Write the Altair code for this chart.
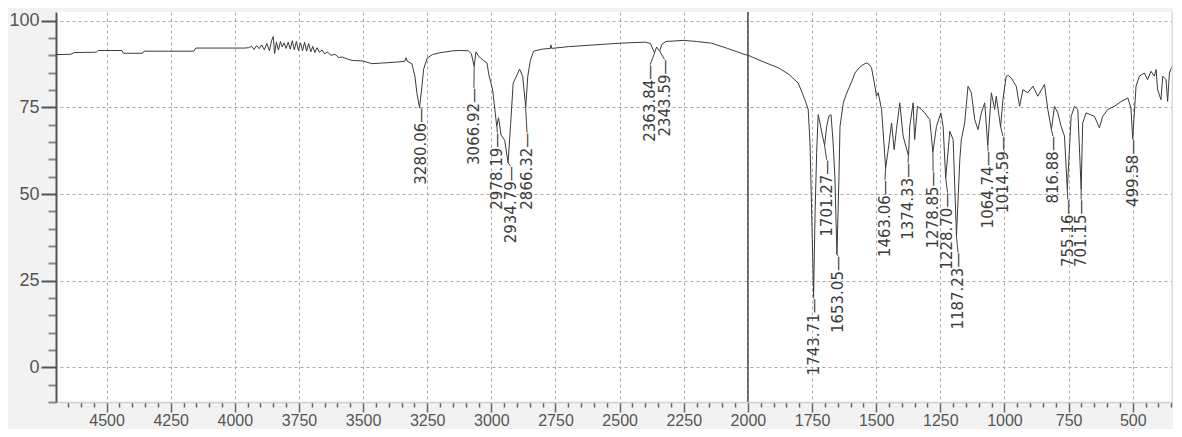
import altair as alt
import pandas as pd

# ---------------- spectrum (wavenumber cm-1, %T) ----------------
WN = [
    4698, 4640, 4625, 4540, 4532, 4440, 4434, 4360, 4354, 4160, 4152, 3960,
    3947, 3935, 3925, 3915, 3905, 3895, 3885, 3875, 3865, 3857, 3850, 3845,
    3838, 3830, 3822, 3815, 3808, 3800, 3792, 3784, 3776, 3768, 3760, 3752,
    3744, 3736, 3728, 3720, 3712, 3704, 3696, 3688, 3680, 3670, 3660, 3650,
    3640, 3625, 3610, 3595, 3580, 3560, 3540, 3503, 3466, 3420, 3360, 3337,
    3332, 3328, 3310, 3298, 3290, 3280, 3272, 3264, 3250, 3230, 3204, 3150,
    3126, 3090, 3078, 3067, 3060, 3050, 3042, 3030, 3017, 3010, 2995, 2979,
    2972, 2962, 2948, 2935, 2925, 2915, 2902, 2890, 2878, 2866, 2858, 2848,
    2835, 2800, 2770, 2768, 2765, 2700, 2600, 2500, 2400, 2380, 2364, 2356,
    2344, 2335, 2320, 2251, 2200, 2142, 2080, 2011, 1998, 1946, 1881, 1840,
    1804, 1790, 1778, 1765, 1758, 1750, 1744, 1738, 1732, 1726, 1719, 1710,
    1701, 1693, 1684, 1676, 1668, 1661, 1653, 1645, 1641, 1628, 1618, 1609,
    1595, 1583, 1565, 1551, 1538, 1528, 1518, 1505, 1499, 1492, 1479, 1463,
    1453, 1440, 1430, 1421, 1408, 1395, 1374, 1369, 1356, 1350, 1339, 1324,
    1311, 1291, 1279, 1265, 1248, 1239, 1229, 1213, 1200, 1187, 1174, 1168,
    1155, 1142, 1129, 1116, 1103, 1090, 1077, 1065, 1051, 1038, 1032, 1015,
    1006, 993, 985, 974, 954, 941, 928, 909, 889, 870, 844, 831,
    817, 805, 792, 779, 766, 755, 740, 727, 714, 701, 695, 682,
    649, 630, 617, 597, 571, 545, 519, 507, 500, 487, 474, 455,
    442, 429, 416, 409, 403, 390, 383, 370, 364, 357, 344,
]
T = [
    90.2, 90.3, 90.8, 90.9, 91.4, 91.4, 90.6, 90.6, 91.2, 91.2, 92.1, 92.1,
    92.2, 92.6, 91.7, 92.8, 91.9, 93.0, 91.6, 93.4, 91.3, 94.2, 95.4, 90.5,
    93.8, 91.5, 94.0, 92.4, 93.6, 92.0, 93.8, 91.8, 94.2, 91.6, 94.0, 91.4,
    93.6, 91.3, 93.8, 91.2, 93.4, 91.0, 92.6, 90.8, 92.2, 90.9, 91.6, 90.4,
    91.0, 90.0, 90.3, 89.4, 89.5, 88.9, 88.5, 88.4, 87.6, 87.8, 88.1, 88.3,
    89.3, 88.3, 87.6, 84.0, 79.0, 74.9, 80.0, 86.0, 89.2, 90.2, 90.7, 91.3,
    91.4, 91.3, 90.5, 86.8, 91.0, 89.8, 89.2, 88.5, 87.8, 84.5, 80.0, 69.5,
    72.0, 67.0, 65.5, 59.0, 70.0, 82.0, 84.0, 86.0, 84.0, 75.0, 84.0, 88.5,
    91.2, 91.8, 92.0, 93.0, 92.0, 92.5, 93.0, 93.5, 93.8, 93.4, 90.7, 92.4,
    91.2, 93.2, 94.0, 94.3, 94.0, 93.5, 92.0, 90.2, 90.0, 88.3, 86.4, 84.5,
    82.0, 79.5, 77.2, 74.4, 64.8, 40.0, 20.5, 45.0, 62.0, 72.9, 70.5, 67.0,
    64.0, 69.5, 72.5, 72.9, 65.0, 55.0, 32.5, 55.0, 69.5, 76.3, 78.5, 80.1,
    82.5, 84.9, 86.5, 87.3, 87.8, 87.4, 86.4, 81.1, 78.2, 79.2, 74.4, 57.5,
    62.8, 70.5, 62.8, 68.6, 76.3, 66.7, 61.0, 69.5, 76.3, 65.7, 75.3, 74.4,
    73.4, 71.5, 62.0, 69.5, 73.4, 69.5, 54.5, 68.1, 65.7, 38.0, 59.9, 65.7,
    70.5, 81.1, 79.2, 71.5, 68.6, 73.4, 76.3, 64.0, 79.2, 74.4, 78.2, 69.3,
    77.2, 84.0, 84.2, 83.5, 81.1, 75.3, 80.1, 79.2, 81.1, 78.2, 81.6, 74.4,
    68.6, 75.3, 73.4, 69.5, 66.7, 51.3, 72.4, 75.3, 74.4, 51.3, 70.5, 73.4,
    72.4, 69.1, 72.4, 74.4, 75.3, 76.7, 77.7, 74.8, 66.0, 81.1, 84.0, 84.9,
    83.0, 85.4, 84.0, 85.9, 80.1, 77.2, 84.0, 83.0, 76.7, 84.9, 87.3,
]

# ---------------- peak annotations ----------------
PEAK_TEXT = ["3280.06", "3066.92", "2978.19", "2934.79", "2866.32", "2363.84",
             "2343.59", "1743.71", "1701.27", "1653.05", "1463.06", "1374.33",
             "1278.85", "1228.70", "1187.23", "1064.74", "1014.59", "816.88",
             "755.16", "701.15", "499.58"]
PEAK_WN = [3280.06, 3066.92, 2978.19, 2934.79, 2866.32, 2363.84, 2343.59,
           1743.71, 1701.27, 1653.05, 1463.06, 1374.33, 1278.85, 1228.70,
           1187.23, 1064.74, 1014.59, 816.88, 755.16, 701.15, 499.58]
PEAK_T = [74.9, 86.8, 69.5, 59.0, 75.0, 90.7, 91.2, 20.5, 64.0, 32.5, 57.5,
          61.0, 62.0, 54.5, 38.0, 64.0, 69.3, 68.6, 51.3, 51.3, 66.0]
LABEL_WN = [3275, 3068, 2977, 2925, 2861, 2381, 2325, 1744, 1693, 1648, 1466,
            1376, 1278, 1222, 1181, 1064, 1006, 811, 753, 701, 500]
LABEL_T = [74.9, 80.6, 67.7, 58.0, 67.7, 87.3, 88.8, 19.9, 59.9, 32.1, 54.0,
           59.0, 56.5, 50.4, 33.1, 62.3, 66.7, 66.7, 48.4, 48.4, 65.7]

X_TICKS = list(range(350, 4651, 50))
Y_TICKS = list(range(-10, 101, 5))
MARKER_WN = [2000]
X_DOMAIN = [343, 4697]
Y_DOMAIN = [-10, 102.5]

spec = pd.DataFrame({"wn": WN, "t": T})
peaks = pd.DataFrame({
    "text": [s + "\u2014" for s in PEAK_TEXT],
    "pwn": PEAK_WN, "pt": PEAK_T, "lwn": LABEL_WN, "lt": LABEL_T,
})
marker = pd.DataFrame({"wn": MARKER_WN})
edge = pd.DataFrame({"wn": [X_DOMAIN[0]]})

AXFONT = "Liberation Sans"

xscale = alt.Scale(domain=X_DOMAIN, reverse=True, nice=False, zero=False)
yscale = alt.Scale(domain=Y_DOMAIN, nice=False, zero=False)

x_axis = alt.Axis(
    title=None, values=X_TICKS, format="d",
    labelExpr="datum.value % 250 === 0 ? datum.label : ''",
    labelFont=AXFONT, labelFontSize=16, labelColor="#555555", labelPadding=0,
    labelFlush=False, labelOverlap=False,
    tickSize={"condition": {"test": "datum.value % 250 === 0", "value": 10}, "value": 5},
    tickColor="#666666", tickWidth=1.5,
    domainColor="#d0d0d0", domainWidth=1.5,
    grid=True, gridColor="#a8a8a8", gridDash=[3, 3], gridWidth=1,
    gridOpacity={"condition": {"test": "datum.value % 250 === 0", "value": 1}, "value": 0},
)
y_axis = alt.Axis(
    title=None, values=Y_TICKS, format="d",
    labelExpr="datum.value % 25 === 0 ? datum.label : ''",
    labelFont=AXFONT, labelFontSize=18, labelColor="#555555", labelPadding=2,
    labelFlush=False, labelOverlap=False,
    tickSize={"condition": {"test": "datum.value % 25 === 0", "value": 15}, "value": 8},
    tickColor={"condition": {"test": "datum.value % 25 === 0", "value": "#555555"}, "value": "#8a8a8a"},
    tickWidth=2,
    domainColor="#555555", domainWidth=2,
    grid=True, gridColor="#a8a8a8", gridDash=[3, 3], gridWidth=1,
    gridOpacity={"condition": {"test": "datum.value % 25 === 0", "value": 1}, "value": 0},
)

line = alt.Chart(spec).mark_line(color="#3a3a3a", strokeWidth=1).encode(
    x=alt.X("wn:Q", scale=xscale, axis=x_axis),
    y=alt.Y("t:Q", scale=yscale, axis=y_axis),
    order=alt.Order("wn:Q", sort="descending"),
)

vline = alt.Chart(marker).mark_rule(color="#4a4a4a", strokeWidth=1.5).encode(
    x=alt.X("wn:Q", scale=xscale, axis=x_axis),
)

right_edge = alt.Chart(edge).mark_rule(color="#dcdcdc", strokeWidth=3).encode(
    x=alt.X("wn:Q", scale=xscale, axis=x_axis),
)

connectors = alt.Chart(peaks).mark_rule(color="#444444", strokeWidth=1).encode(
    x=alt.X("pwn:Q", scale=xscale, axis=x_axis),
    y=alt.Y("pt:Q", scale=yscale, axis=y_axis),
    x2="lwn:Q",
    y2="lt:Q",
)

labels = alt.Chart(peaks).mark_text(
    angle=270, align="right", baseline="middle",
    font="DejaVu Sans", fontSize=15, color="#3c3c3c",
).encode(
    x=alt.X("lwn:Q", scale=xscale, axis=x_axis),
    y=alt.Y("lt:Q", scale=yscale, axis=y_axis),
    text="text:N",
)

chart = alt.layer(line, right_edge, vline, connectors, labels).properties(
    width=1117, height=390,
    autosize=alt.AutoSizeParams(type="none"),
    padding={"left": 48, "top": 4, "right": 0, "bottom": 27},
    background="#f2f2f2",
).configure_view(fill="white", stroke=None)

chart.save("out.html", embed_options={"renderer": "svg", "actions": False})
